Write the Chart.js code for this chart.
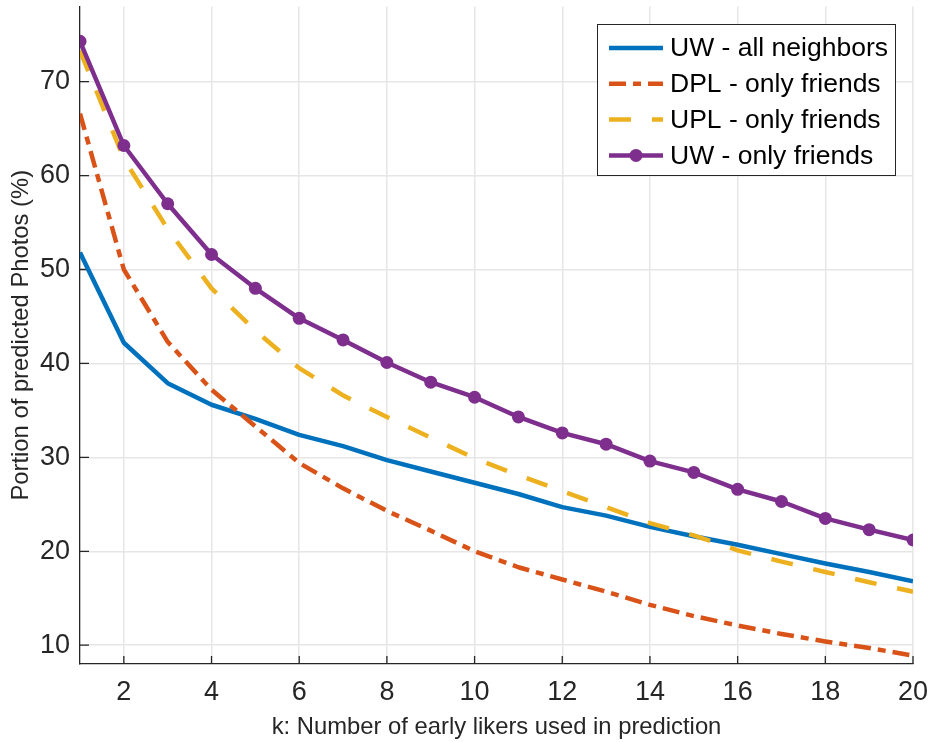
<!DOCTYPE html>
<html>
<head>
<meta charset="utf-8">
<title>Portion of predicted photos</title>
<script src="https://cdn.jsdelivr.net/npm/chart.js@4.4.1/dist/chart.umd.min.js"></script>
<style>
    html, body { margin: 0; padding: 0; background: #ffffff; }
    #wrap { width: 928px; height: 742px; }
</style>
</head>
<body>
<div id="wrap"><canvas id="lineChart" width="928" height="742"></canvas></div>
<script>
// Data
const kValues = [1, 2, 3, 4, 5, 6, 7, 8, 9, 10, 11, 12, 13, 14, 15, 16, 17, 18, 19, 20];
const uwAllNeighbors = [51.8, 42.2, 37.9, 35.6, 34.1, 32.4, 31.2, 29.7, 28.5, 27.3, 26.1, 24.7, 23.8, 22.6, 21.6, 20.7, 19.7, 18.7, 17.8, 16.8];
const dplOnlyFriends = [66.6, 50.0, 42.3, 37.2, 33.3, 29.4, 26.7, 24.3, 22.2, 20.0, 18.3, 17.0, 15.7, 14.3, 13.1, 12.1, 11.2, 10.4, 9.7, 8.9];
const uplOnlyFriends = [73.3, 61.8, 54.3, 48.0, 43.5, 39.5, 36.6, 34.3, 32.1, 29.9, 28.1, 26.4, 24.7, 23.0, 21.7, 20.1, 18.9, 17.8, 16.7, 15.7];
const uwOnlyFriends = [74.3, 63.2, 57.0, 51.6, 48.0, 44.8, 42.5, 40.1, 38.0, 36.4, 34.3, 32.6, 31.4, 29.6, 28.4, 26.6, 25.3, 23.5, 22.3, 21.2];

const seriesNames = ['UW - all neighbors', 'DPL - only friends', 'UPL - only friends', 'UW - only friends'];
const xTickValues = [2, 4, 6, 8, 10, 12, 14, 16, 18, 20];
const yTickValues = [10, 20, 30, 40, 50, 60, 70];

const FONT = "'Liberation Sans', Arial, Helvetica, sans-serif";
const AXIS_COLOR = '#262626';

function toPoints(values) {
    return kValues.map((k, i) => ({ x: k, y: values[i] }));
}

// Inward tick marks like the original plot
const innerTicks = {
    id: 'innerTicks',
    beforeDatasetsDraw(chart) {
        const ctx = chart.ctx;
        const area = chart.chartArea;
        const xs = chart.scales.x;
        const ys = chart.scales.y;
        ctx.save();
        ctx.strokeStyle = AXIS_COLOR;
        ctx.lineWidth = 1.3;
        ctx.beginPath();
        xTickValues.forEach(v => {
            let px = xs.getPixelForValue(v);
            ctx.moveTo(px, area.bottom);
            ctx.lineTo(px, area.bottom - 8);
        });
        yTickValues.forEach(v => {
            let py = ys.getPixelForValue(v);
            ctx.moveTo(area.left, py);
            ctx.lineTo(area.left + 9, py);
        });
        ctx.stroke();
        ctx.restore();
    }
};

// Legend box in the top-right corner of the plot
const boxLegend = {
    id: 'boxLegend',
    afterDraw(chart) {
        const ctx = chart.ctx;
        const left = 597, top = 24, width = 298, height = 151;
        ctx.save();
        ctx.fillStyle = '#ffffff';
        ctx.fillRect(left, top, width, height);
        ctx.strokeStyle = AXIS_COLOR;
        ctx.lineWidth = 1;
        ctx.strokeRect(left + 0.5, top + 0.5, width, height);

        chart.data.datasets.forEach((ds, i) => {
            let y = top + 24 + i * 35.8;
            ctx.strokeStyle = ds.borderColor;
            ctx.lineWidth = ds.borderWidth;
            ctx.setLineDash(ds.borderDash || []);
            ctx.beginPath();
            ctx.moveTo(609, y);
            ctx.lineTo(663, y);
            ctx.stroke();
            ctx.setLineDash([]);
            if (ds.pointRadius > 0) {
                ctx.fillStyle = ds.pointBackgroundColor;
                ctx.beginPath();
                ctx.arc(636, y, ds.pointRadius, 0, Math.PI * 2);
                ctx.fill();
            }
            ctx.fillStyle = '#000000';
            ctx.font = '26.5px ' + FONT;
            ctx.textBaseline = 'middle';
            ctx.textAlign = 'left';
            ctx.fillText(ds.label, 670, y + 1);
        });
        ctx.restore();
    }
};

let ctxLine = document.getElementById('lineChart').getContext('2d');

let lineChart = new Chart(ctxLine, {
    type: 'line',
    data: {
        datasets: [
            {
                label: seriesNames[0],
                data: toPoints(uwAllNeighbors),
                borderColor: '#0072BD',
                borderWidth: 4.5,
                pointRadius: 0,
                order: 3,
            },
            {
                label: seriesNames[1],
                data: toPoints(dplOnlyFriends),
                borderColor: '#D95319',
                borderWidth: 4.5,
                borderDash: [17, 7, 8, 7],
                pointRadius: 0,
                order: 2,
            },
            {
                label: seriesNames[2],
                data: toPoints(uplOnlyFriends),
                borderColor: '#EDB120',
                borderWidth: 4.5,
                borderDash: [22, 21],
                pointRadius: 0,
                order: 1,
            },
            {
                label: seriesNames[3],
                data: toPoints(uwOnlyFriends),
                borderColor: '#7E2F8E',
                borderWidth: 4.5,
                pointRadius: 6.5,
                pointStyle: 'circle',
                pointBackgroundColor: '#7E2F8E',
                pointBorderColor: '#7E2F8E',
                pointBorderWidth: 0,
                order: 0,
            }
        ]
    },
    options: {
        responsive: false,
        animation: false,
        devicePixelRatio: 1,
        layout: {
            padding: { top: 6, right: 15, left: 0, bottom: 0 }
        },
        elements: {
            line: { tension: 0, borderCapStyle: 'butt', borderJoinStyle: 'round' }
        },
        scales: {
            x: {
                type: 'linear',
                min: 1,
                max: 20,
                afterBuildTicks: (scale) => {
                    scale.ticks = xTickValues.map(v => ({ value: v }));
                },
                afterFit: (scale) => {
                    scale.height = 78;
                    scale.paddingLeft = 0;
                    scale.paddingRight = 0;
                },
                grid: {
                    color: '#e6e6e6',
                    lineWidth: 1.5,
                    drawTicks: false,
                },
                border: { display: true, color: AXIS_COLOR, width: 1.3 },
                ticks: {
                    color: AXIS_COLOR,
                    font: { size: 27, family: FONT },
                    padding: 12,
                    maxRotation: 0,
                    autoSkip: false,
                },
                title: {
                    display: true,
                    text: 'k: Number of early likers used in prediction',
                    color: AXIS_COLOR,
                    font: { size: 23.8, family: FONT, lineHeight: 1 },
                    padding: { top: 0, bottom: 3 },
                }
            },
            y: {
                type: 'linear',
                min: 8,
                max: 78,
                afterBuildTicks: (scale) => {
                    scale.ticks = yTickValues.map(v => ({ value: v }));
                },
                afterFit: (scale) => {
                    scale.width = 80;
                    scale.paddingTop = 0;
                    scale.paddingBottom = 0;
                },
                grid: {
                    color: '#e6e6e6',
                    lineWidth: 1.5,
                    drawTicks: false,
                },
                border: { display: true, color: AXIS_COLOR, width: 1.3 },
                ticks: {
                    color: AXIS_COLOR,
                    font: { size: 27, family: FONT },
                    padding: 10,
                },
                title: {
                    display: true,
                    text: 'Portion of predicted Photos (%)',
                    color: AXIS_COLOR,
                    font: { size: 23.8, family: FONT, lineHeight: 1 },
                    padding: { top: 10, bottom: 0 },
                }
            }
        },
        plugins: {
            legend: { display: false },
            tooltip: { enabled: false }
        }
    },
    plugins: [innerTicks, boxLegend]
});
</script>
</body>
</html>
